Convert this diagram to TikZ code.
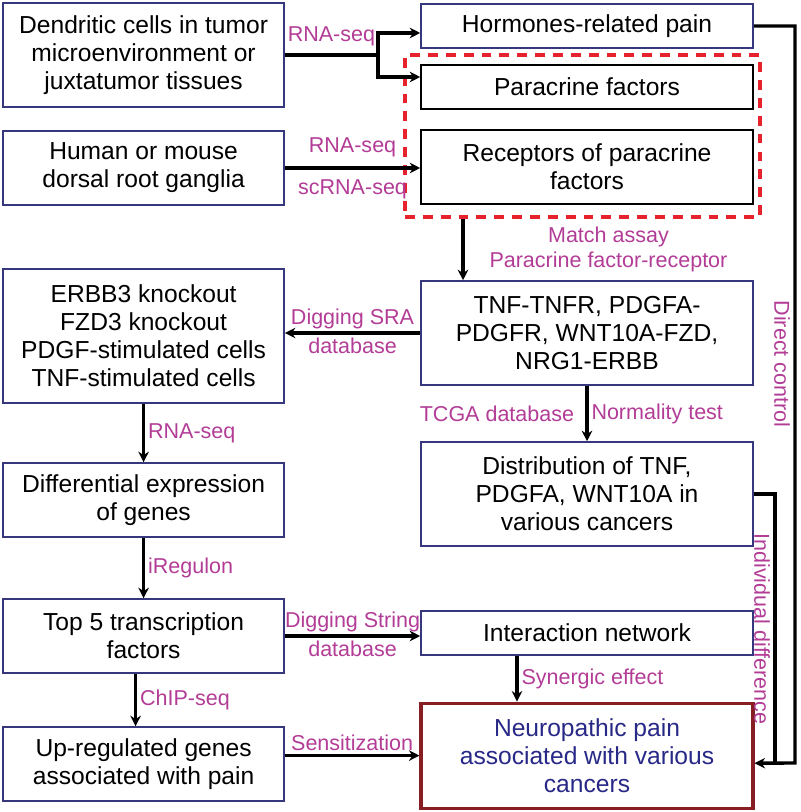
\documentclass[tikz,border=0pt]{standalone}
\usepackage{fontspec}
\setmainfont{Liberation Sans}
\usetikzlibrary{arrows.meta}
\definecolor{boxblue}{RGB}{55,55,125}
\definecolor{lblpink}{RGB}{178,60,150}
\definecolor{dashred}{RGB}{230,35,45}
\definecolor{painred}{RGB}{135,30,35}
\definecolor{painblue}{RGB}{40,40,135}
\tikzstyle{box} = [draw=boxblue,line width=1.1pt,minimum width=7.025cm,minimum height=1.85cm,inner sep=0pt,align=center,font=\fontsize{17.5}{20}\selectfont]
\tikzstyle{rbox} = [box,minimum width=8.3cm]
\tikzstyle{lbl} = [text=lblpink,inner sep=2pt,font=\fontsize{15.3}{18}\selectfont]
\tikzstyle{arrow} = [line width=2.4pt,->,>={Stealth[length=7.5pt,width=7.5pt]}]

\begin{document}
\begin{tikzpicture}
\tikzstyle{arrow} = [line width=2.4pt,->,>={Stealth[length=7.5pt,width=7.5pt]}]
\useasboundingbox (0,0) rectangle (20,-20.3);

\node[box,minimum height=2.6cm] (dend) at (3.59,-1.375) {Dendritic cells in tumor\\microenvironment or\\juxtatumor tissues};
\node[box] (human) at (3.59,-4.2) {Human or mouse\\dorsal root ganglia};
\node[box,minimum height=3.35cm] (ko) at (3.59,-8.4) {ERBB3 knockout\\FZD3 knockout\\PDGF-stimulated cells\\TNF-stimulated cells};
\node[box] (diff) at (3.59,-12.5) {Differential expression\\of genes};
\node[box] (tf) at (3.59,-15.9) {Top 5 transcription\\factors};
\node[box] (upreg) at (3.59,-19.1) {Up-regulated genes\\associated with pain};

\node[rbox,minimum height=1.1cm] (horm) at (14.675,-0.65) {Hormones-related pain};
\node[rbox,draw=black,minimum height=1.1cm] (parac) at (14.675,-2.175) {Paracrine factors};
\node[rbox,draw=black] (recep) at (14.675,-4.175) {Receptors of paracrine\\factors};
\node[draw=dashred,line width=2.8pt,dash pattern=on 7pt off 5.7pt,minimum width=8.875cm,minimum height=4.05cm,inner sep=0pt] (grp) at (14.5625,-3.4) {};
\node[rbox,minimum height=2.6cm] (pair) at (14.675,-8.325) {TNF-TNFR, PDGFA-\\PDGFR, WNT10A-FZD,\\NRG1-ERBB};
\node[rbox,minimum height=2.6cm] (distr) at (14.675,-12.35) {Distribution of TNF,\\PDGFA, WNT10A in\\various cancers};
\node[rbox,minimum height=1.1cm] (net) at (14.675,-15.825) {Interaction network};
\node[rbox,draw=painred,line width=2.2pt,text=painblue,minimum height=2.625cm] (pain) at (14.675,-18.89) {Neuropathic pain\\associated with various\\cancers};

\draw[line width=2.4pt] (dend.east) -- node[lbl,above=3pt] {RNA-seq} (9.45,-1.375) coordinate (split);
\draw[arrow] (split) |- ([yshift=-0.175cm]horm.west);
\draw[arrow] (split) |- ([yshift=0.25cm]parac.west);
\draw[arrow] (human.east) -- node[lbl,above=5pt] {RNA-seq} node[lbl,below=5pt] {scRNA-seq} (human.east -| recep.west);
\draw[arrow] (11.575,0 |- grp.south) -- node[lbl,right=0.55cm,align=center] {Match assay\\Paracrine factor-receptor} (11.575,0 |- pair.north);
\draw[arrow] (pair.west) -- node[lbl,above] {Digging SRA} node[lbl,below] {database} (pair.west -| ko.east);
\draw[arrow] (pair.south) -- node[lbl,left=6pt] {TCGA database} node[lbl,right] {Normality test} (distr.north);

\draw[arrow] (horm.east) -| (19.875,-19.075) -- ([yshift=-0.19cm]pain.east);
\draw[line width=2.4pt] (distr.east) -| (19.375,-19.075);
\node[lbl,rotate=-90] (direct) at (19.55,-9.1) {Direct control};
\node[lbl,rotate=-90] (indiv) at (19.05,-15.725) {Individual difference};

\draw[arrow] (ko.south) -- node[lbl,right] {RNA-seq} (diff.north);
\draw[arrow] (diff.south) -- node[lbl,right] {iRegulon} (tf.north);
\draw[arrow] ([xshift=-0.2cm]tf.south) -- node[lbl,right] {ChIP-seq} ([xshift=-0.2cm]upreg.north);
\draw[arrow] (tf.east) -- node[lbl,above] {Digging String} node[lbl,below] {database} (tf.east -| net.west);
\draw[arrow] ([xshift=-1.75cm]net.south) -- node[lbl,right] {Synergic effect} ([xshift=-1.75cm]pain.north);
\draw[arrow] (pain.west -| upreg.east) -- node[lbl,above] {Sensitization} (pain.west);
\end{tikzpicture}
\end{document}
